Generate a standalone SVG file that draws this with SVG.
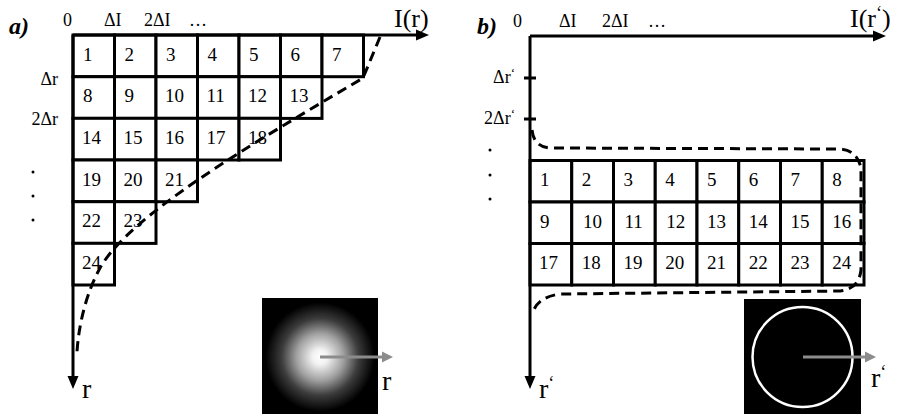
<svg xmlns="http://www.w3.org/2000/svg" width="898" height="414" viewBox="0 0 898 414">
<style>
text{font-family:"Liberation Serif","DejaVu Serif",serif;fill:#000}
.cell rect{fill:#fff;stroke:#000;stroke-width:3}
.num{font-size:19px}
.lab{font-size:18px}
.big{font-size:26px}
.rl{font-size:28px}
.pl{font-size:24px;font-weight:bold;font-style:italic}
.axis{stroke:#000;stroke-width:3;fill:none}
.dash{stroke:#000;stroke-width:3;fill:none;stroke-dasharray:10 6}
.garr{stroke:#8c8c8c;stroke-width:3;fill:none}
</style>
<defs>
<radialGradient id="glow" gradientUnits="userSpaceOnUse" cx="320" cy="357" r="62">
<stop offset="0" stop-color="#ffffff"/>
<stop offset="0.12" stop-color="#f2f2f2"/>
<stop offset="0.38" stop-color="#a0a0a0"/>
<stop offset="0.62" stop-color="#3c3c3c"/>
<stop offset="0.88" stop-color="#000000"/>
</radialGradient>
</defs>

<!-- panel a labels -->
<g id="labels-a">
<text class="pl" x="9" y="34">a)</text>
<text class="lab" x="63" y="26">0</text>
<text class="lab" x="104" y="26">ΔI</text>
<text class="lab" x="144" y="26">2ΔI</text>
<text class="lab" x="189" y="26">…</text>
<text class="big" x="394" y="27">I(r)</text>
<text class="lab" x="58" y="85" text-anchor="end">Δr</text>
<text class="lab" x="58" y="125" text-anchor="end">2Δr</text>
<circle cx="33" cy="172" r="1.5"/>
<circle cx="33" cy="196" r="1.5"/>
<circle cx="33" cy="220" r="1.5"/>
<text class="rl" x="82" y="398">r</text>
</g>

<!-- panel a cells -->
<g id="grid-a">
<g class="cell" id="a1"><rect x="73" y="35" width="41.5" height="41.7"/><text class="num" x="83" y="60.5">1</text></g>
<g class="cell" id="a2"><rect x="114.5" y="35" width="41.5" height="41.7"/><text class="num" x="124.5" y="60.5">2</text></g>
<g class="cell" id="a3"><rect x="156" y="35" width="41.5" height="41.7"/><text class="num" x="166" y="60.5">3</text></g>
<g class="cell" id="a4"><rect x="197.5" y="35" width="41.5" height="41.7"/><text class="num" x="207.5" y="60.5">4</text></g>
<g class="cell" id="a5"><rect x="239" y="35" width="41.5" height="41.7"/><text class="num" x="249" y="60.5">5</text></g>
<g class="cell" id="a6"><rect x="280.5" y="35" width="41.5" height="41.7"/><text class="num" x="290.5" y="60.5">6</text></g>
<g class="cell" id="a7"><rect x="322" y="35" width="41.5" height="41.7"/><text class="num" x="332" y="60.5">7</text></g>
<g class="cell" id="a8"><rect x="73" y="76.7" width="41.5" height="41.7"/><text class="num" x="83" y="102.2">8</text></g>
<g class="cell" id="a9"><rect x="114.5" y="76.7" width="41.5" height="41.7"/><text class="num" x="124.5" y="102.2">9</text></g>
<g class="cell" id="a10"><rect x="156" y="76.7" width="41.5" height="41.7"/><text class="num" x="165" y="102.2">10</text></g>
<g class="cell" id="a11"><rect x="197.5" y="76.7" width="41.5" height="41.7"/><text class="num" x="206.5" y="102.2">11</text></g>
<g class="cell" id="a12"><rect x="239" y="76.7" width="41.5" height="41.7"/><text class="num" x="248" y="102.2">12</text></g>
<g class="cell" id="a13"><rect x="280.5" y="76.7" width="41.5" height="41.7"/><text class="num" x="289.5" y="102.2">13</text></g>
<g class="cell" id="a14"><rect x="73" y="118.3" width="41.5" height="41.7"/><text class="num" x="82" y="143.8">14</text></g>
<g class="cell" id="a15"><rect x="114.5" y="118.3" width="41.5" height="41.7"/><text class="num" x="123.5" y="143.8">15</text></g>
<g class="cell" id="a16"><rect x="156" y="118.3" width="41.5" height="41.7"/><text class="num" x="165" y="143.8">16</text></g>
<g class="cell" id="a17"><rect x="197.5" y="118.3" width="41.5" height="41.7"/><text class="num" x="206.5" y="143.8">17</text></g>
<g class="cell" id="a18"><rect x="239" y="118.3" width="41.5" height="41.7"/><text class="num" x="248" y="143.8">18</text></g>
<g class="cell" id="a19"><rect x="73" y="160" width="41.5" height="41.7"/><text class="num" x="82" y="185.5">19</text></g>
<g class="cell" id="a20"><rect x="114.5" y="160" width="41.5" height="41.7"/><text class="num" x="123.5" y="185.5">20</text></g>
<g class="cell" id="a21"><rect x="156" y="160" width="41.5" height="41.7"/><text class="num" x="165" y="185.5">21</text></g>
<g class="cell" id="a22"><rect x="73" y="201.7" width="41.5" height="41.7"/><text class="num" x="82" y="227.2">22</text></g>
<g class="cell" id="a23"><rect x="114.5" y="201.7" width="41.5" height="41.7"/><text class="num" x="123.5" y="227.2">23</text></g>
<g class="cell" id="a24"><rect x="73" y="243.3" width="41.5" height="41.7"/><text class="num" x="82" y="268.8">24</text></g>
</g>

<!-- panel a image -->
<g id="image-a">
<rect x="262" y="298" width="116" height="116" fill="url(#glow)"/>
<line class="garr" x1="320" y1="357" x2="384" y2="357"/>
<polygon points="393,357 382,351.5 382,362.5" fill="#8c8c8c"/>
<text class="rl" x="382" y="390">r</text>
</g>

<!-- panel b labels -->
<g id="labels-b">
<text class="pl" x="477" y="34">b)</text>
<text class="lab" x="513" y="27">0</text>
<text class="lab" x="559" y="27">ΔI</text>
<text class="lab" x="602" y="27">2ΔI</text>
<text class="lab" x="648" y="27">…</text>
<text class="big" x="850" y="27">I(r<tspan font-size="18" dy="-8">‘</tspan><tspan dy="8">)</tspan></text>
<text class="lab" x="515" y="83" text-anchor="end">Δr<tspan font-size="13" dy="-6">‘</tspan></text>
<text class="lab" x="515" y="124" text-anchor="end">2Δr<tspan font-size="13" dy="-6">‘</tspan></text>
<circle cx="490" cy="150" r="1.5"/>
<circle cx="490" cy="175" r="1.5"/>
<circle cx="490" cy="199" r="1.5"/>
<text class="rl" x="539" y="398">r<tspan font-size="18" dy="-9">‘</tspan></text>
</g>

<!-- panel b cells -->
<g id="grid-b">
<g class="cell" id="b1"><rect x="530" y="160.5" width="41.75" height="41.5"/><text class="num" x="540" y="186">1</text></g>
<g class="cell" id="b2"><rect x="571.75" y="160.5" width="41.75" height="41.5"/><text class="num" x="581.75" y="186">2</text></g>
<g class="cell" id="b3"><rect x="613.5" y="160.5" width="41.75" height="41.5"/><text class="num" x="623.5" y="186">3</text></g>
<g class="cell" id="b4"><rect x="655.25" y="160.5" width="41.75" height="41.5"/><text class="num" x="665.25" y="186">4</text></g>
<g class="cell" id="b5"><rect x="697" y="160.5" width="41.75" height="41.5"/><text class="num" x="707" y="186">5</text></g>
<g class="cell" id="b6"><rect x="738.75" y="160.5" width="41.75" height="41.5"/><text class="num" x="748.75" y="186">6</text></g>
<g class="cell" id="b7"><rect x="780.5" y="160.5" width="41.75" height="41.5"/><text class="num" x="790.5" y="186">7</text></g>
<g class="cell" id="b8"><rect x="822.25" y="160.5" width="41.75" height="41.5"/><text class="num" x="832.25" y="186">8</text></g>
<g class="cell" id="b9"><rect x="530" y="202" width="41.75" height="41.5"/><text class="num" x="540" y="227.5">9</text></g>
<g class="cell" id="b10"><rect x="571.75" y="202" width="41.75" height="41.5"/><text class="num" x="583" y="227.5">10</text></g>
<g class="cell" id="b11"><rect x="613.5" y="202" width="41.75" height="41.5"/><text class="num" x="624.5" y="227.5">11</text></g>
<g class="cell" id="b12"><rect x="655.25" y="202" width="41.75" height="41.5"/><text class="num" x="666.25" y="227.5">12</text></g>
<g class="cell" id="b13"><rect x="697" y="202" width="41.75" height="41.5"/><text class="num" x="707" y="227.5">13</text></g>
<g class="cell" id="b14"><rect x="738.75" y="202" width="41.75" height="41.5"/><text class="num" x="748.75" y="227.5">14</text></g>
<g class="cell" id="b15"><rect x="780.5" y="202" width="41.75" height="41.5"/><text class="num" x="790.5" y="227.5">15</text></g>
<g class="cell" id="b16"><rect x="822.25" y="202" width="41.75" height="41.5"/><text class="num" x="832.25" y="227.5">16</text></g>
<g class="cell" id="b17"><rect x="530" y="243.5" width="41.75" height="41.5"/><text class="num" x="539" y="269">17</text></g>
<g class="cell" id="b18"><rect x="571.75" y="243.5" width="41.75" height="41.5"/><text class="num" x="581.75" y="269">18</text></g>
<g class="cell" id="b19"><rect x="613.5" y="243.5" width="41.75" height="41.5"/><text class="num" x="623.5" y="269">19</text></g>
<g class="cell" id="b20"><rect x="655.25" y="243.5" width="41.75" height="41.5"/><text class="num" x="665.25" y="269">20</text></g>
<g class="cell" id="b21"><rect x="697" y="243.5" width="41.75" height="41.5"/><text class="num" x="707" y="269">21</text></g>
<g class="cell" id="b22"><rect x="738.75" y="243.5" width="41.75" height="41.5"/><text class="num" x="748.75" y="269">22</text></g>
<g class="cell" id="b23"><rect x="780.5" y="243.5" width="41.75" height="41.5"/><text class="num" x="790.5" y="269">23</text></g>
<g class="cell" id="b24"><rect x="822.25" y="243.5" width="41.75" height="41.5"/><text class="num" x="832.25" y="269">24</text></g>
</g>

<!-- panel b image -->
<g id="image-b">
<rect x="744" y="299" width="117" height="115" fill="#000"/>
<circle cx="802.5" cy="357" r="50" fill="none" stroke="#fff" stroke-width="2.5"/>
<line class="garr" x1="803" y1="357" x2="867" y2="357"/>
<polygon points="876,357 865,351.5 865,362.5" fill="#8c8c8c"/>
<text class="rl" x="871" y="387">r<tspan font-size="18" dy="-9">‘</tspan></text>
</g>

<!-- connectors: axes and dashed envelopes -->
<g id="connectors">
<path class="axis" d="M73,35 H418 M73,35 V377"/>
<polygon points="429,35 416,29.5 416,40.5"/>
<polygon points="73,389 67.5,376 78.5,376"/>
<path class="dash" d="M380,37 L363,78 C250,145 130,215 100,268 C88,290 79,320 77,352"/>

<path class="axis" d="M530,36 H875 M530,36 V377 M524,78 H536 M524,119 H536"/>
<polygon points="886,36 873,30.5 873,41.5"/>
<polygon points="530,389 524.5,376 535.5,376"/>
<path class="dash" d="M532,130 Q534,148 552,148 L840,149 Q857,150 861,168 L861,270 Q859,289 840,291 L560,294 Q538,297 533,312"/>
</g>
</svg>
